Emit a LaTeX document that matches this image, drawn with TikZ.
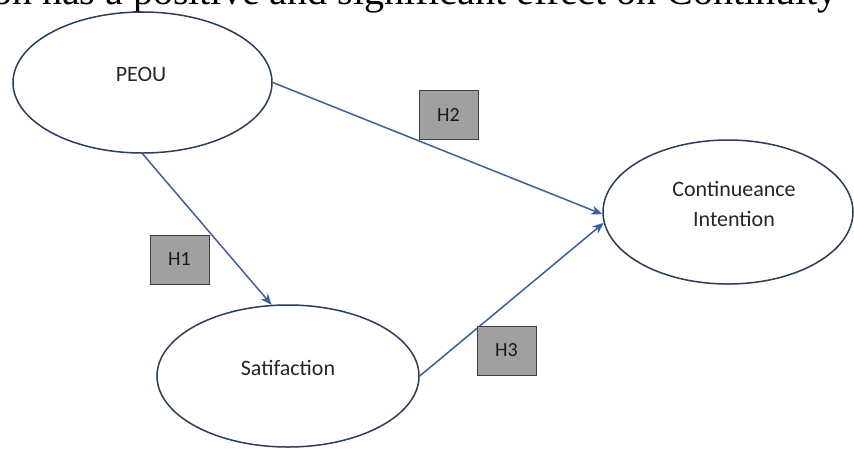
\documentclass[tikz,border=0pt]{standalone}
\usepackage{fontspec}
\setmainfont{Liberation Serif}
\newfontfamily\calibri{Carlito}
\usetikzlibrary{arrows.meta,shapes.geometric}
\definecolor{rim}{HTML}{2B3D57}
\definecolor{linkblue}{HTML}{3D5F9A}
\definecolor{tagfill}{HTML}{A0A0A0}
\definecolor{tagrim}{HTML}{3F3F3F}
\begin{document}
\begin{tikzpicture}[x=1pt,y=-1pt,
  construct/.style={ellipse,draw=rim,line width=1.5pt,fill=white,inner sep=0pt},
  caption/.style={font=\calibri\fontsize{22}{30}\selectfont,anchor=base,inner sep=0pt,text=black!85},
  tag/.style={draw=tagrim,fill=tagfill,line width=1pt,minimum width=59pt,minimum height=49pt,inner sep=0pt,font=\calibri\fontsize{20}{22}\selectfont,text=black!90},
  link/.style={draw=linkblue,line width=1.5pt,-{Stealth[length=11pt,width=9pt,inset=3pt]}}]
\useasboundingbox (0,0) rectangle (854,448);
\clip (0,0) rectangle (854,448);
% running text line above the model
\node[anchor=base east,inner sep=0pt,font=\fontsize{40}{48}\selectfont] (heading) at (838,4) {on has a positive and significant effect on Continuity};
% constructs
\node[construct,minimum width=259pt,minimum height=141pt] (peou) at (142.5,82.5) {};
\node[construct,minimum width=250pt,minimum height=144pt] (cont) at (728,212) {};
\node[construct,minimum width=262pt,minimum height=142pt] (sat) at (288,376) {};
\node[caption] (peoutext) at (141,81.7) {PEOU};
\node[caption] (sattext) at (288,375) {Satifaction};
\node[caption,align=center] (conttext) at (734,226.7) {Continueance\\Intention};
% hypothesised paths
\draw[link] (peou.south) -- (sat.103);
\draw[link] (peou.east) -- (cont.181);
\draw[link] (sat.east) -- (cont.185);
% hypothesis labels
\node[tag] (h1) at (179.5,259.5) {H1};
\node[tag] (h2) at (448.5,115) {H2};
\node[tag] (h3) at (506.5,350.5) {H3};
\end{tikzpicture}
\end{document}
